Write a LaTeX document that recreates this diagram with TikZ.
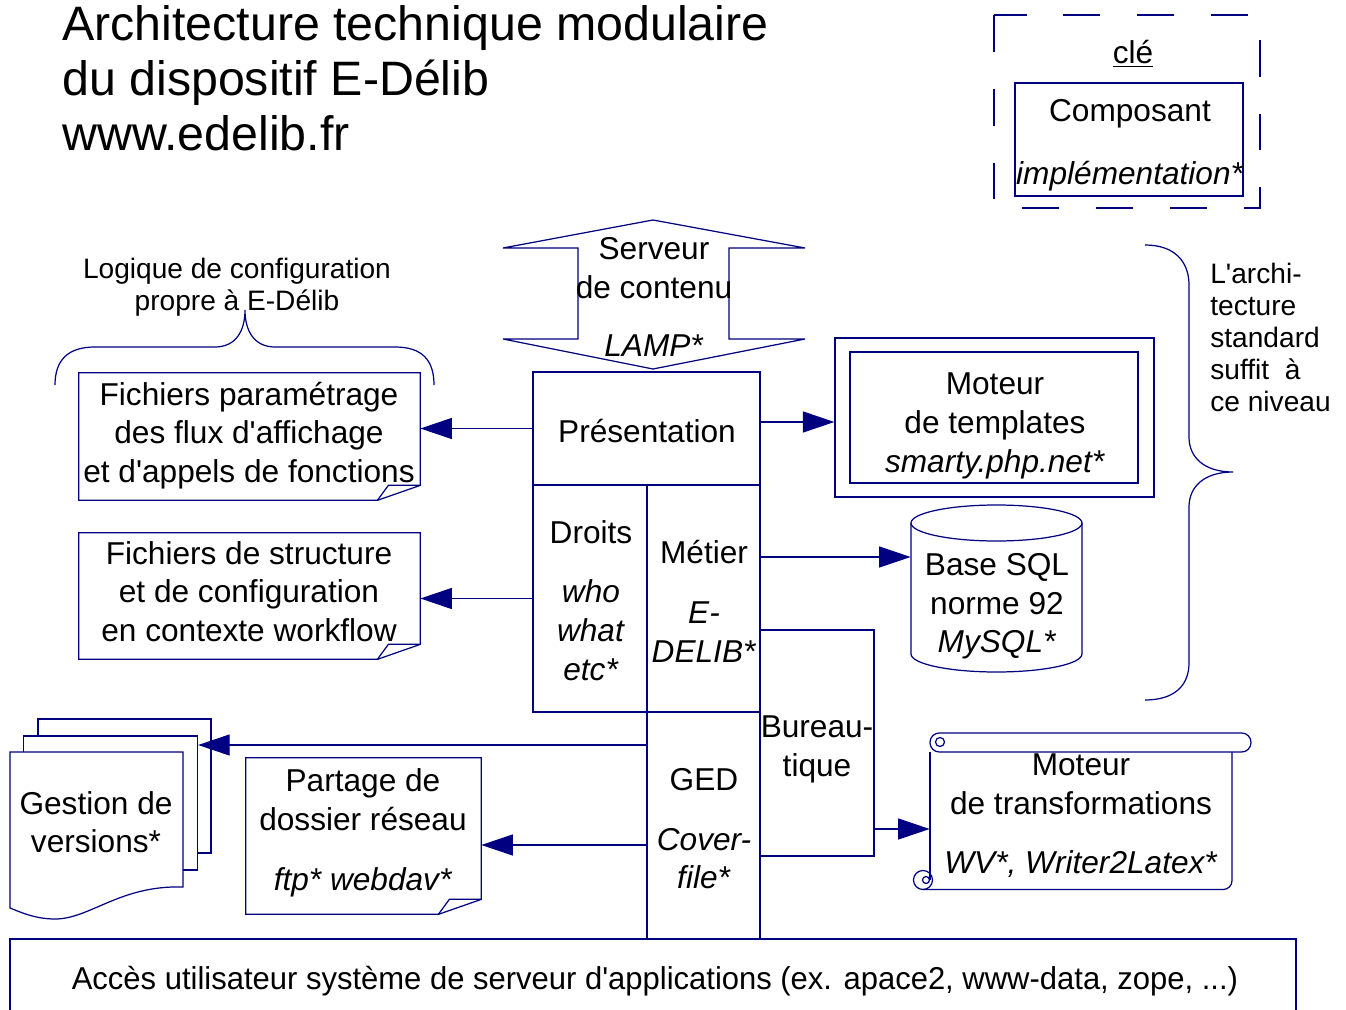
\documentclass[tikz,border=0pt]{standalone}
\usepackage{fontspec}
\usepackage{graphicx}
\setmainfont{Liberation Sans}
\usetikzlibrary{arrows.meta}

\definecolor{navy}{RGB}{0,0,128}
\tikzset{
  line/.style={draw=navy, line width=0.7pt},
  box/.style={line, fill=white, inner sep=0pt},
  sz/.style 2 args={minimum width=#1*0.02cm, minimum height=#2*0.02cm},
  txt/.style={font=\fontsize{18}{22}\selectfont, align=center, inner sep=0pt,
    execute at begin node=\strut, execute at end node=\strut},
  small/.style={font=\fontsize{16}{18.2}\selectfont, align=center, inner sep=0pt,
    execute at begin node=\strut, execute at end node=\strut},
  titre/.style={font=\fontsize{27.5}{31.3}\selectfont, align=left, inner sep=0pt},
  arr/.style={line, -{Triangle[length=18pt,width=12pt]}}
}
\newcommand{\ap}{\textquotesingle}
\newcommand{\foldnote}[1]{%
  \draw[line] (#1.north west) -- (#1.north east) -- ([yshift=0.3cm]#1.south east)
    -- ([xshift=-0.86cm]#1.south east) -- (#1.south west) -- cycle;
  \draw[line] ([xshift=-0.86cm]#1.south east) -- ([xshift=-0.64cm,yshift=0.3cm]#1.south east)
    -- ([yshift=0.3cm]#1.south east);}

\begin{document}
\begin{tikzpicture}[x=0.02cm, y=-0.02cm]
\useasboundingbox (0,0) rectangle (1346,1010);

% titre
\node[titre, anchor=north west] (titre) at (62,5) {Architecture technique modulaire\\du dispositif E-Délib\\www.edelib.fr};

% cle
\draw[line, dash pattern=on 21pt off 21pt] (994,15) rectangle (1260,208);
\node[txt] (cle) at (1133,55.5) {\underline{clé}};
\node[box, sz={228}{113}] (comp) at (1129,139.5) {};
\node[txt] (comptxt) at (1130,148) {Composant\\[14pt]\textit{implémentation*}};

% serveur de contenu
\draw[line] (653,220) -- (805,248) -- (729,248) -- (729,339) -- (805,339) -- (653,369)
  -- (503,339) -- (578,339) -- (578,248) -- (503,248) -- cycle;
\node[txt] (srv) at (654,303) {Serveur\ \\de contenu\\[11pt]\textit{LAMP*}};

% couches
\node[box, sz={114}{226}] (bur) at (817,743) {};
\node[box, sz={227}{113}] (pres) at (646.5,428.5) {};
\node[box, sz={114}{227}] (droits) at (590,598.5) {};
\node[box, sz={113}{227}] (metier) at (703.5,598.5) {};
\node[box, sz={113}{227}] (ged) at (703.5,825.5) {};
\node[txt] (burtxt) at (817,752) {Bureau-\\tique};
\node[txt] (prestxt) at (647,434.5) {Présentation};
\node[txt] (droitstxt) at (591,606) {Droits\\[12pt]\textit{who}\\\textit{what}\\\textit{etc*}};
\node[txt] (metiertxt) at (704,607) {Métier\\[12pt]\textit{E-}\\\textit{DELIB*}};
\node[txt] (gedtxt) at (704,834.5) {GED\\[12pt]\textit{Cover-}\\\textit{file*}};

% fichiers
\node[sz={341}{127}] (fparam) at (249.5,436.5) {};
\foldnote{fparam}
\node[txt] (fparamtxt) at (249,438) {Fichiers paramétrage\\des flux d\ap affichage\\et d\ap appels de fonctions};
\node[sz={341}{126}] (fstruct) at (249.5,596) {};
\foldnote{fstruct}
\node[txt] (fstructtxt) at (249,597) {Fichiers de structure\\et de configuration\\en contexte workflow};
\draw[line] (55,385) .. controls (55,360) and (68,347) .. (95,347) -- (215,347)
  .. controls (235,347) and (245,332) .. (245,310) .. controls (245,332) and (255,347) .. (275,347)
  -- (395,347) .. controls (422,347) and (434,360) .. (434,385);
\node[small] (logique) at (237,289.5) {Logique de configuration\\propre à E-Délib};
\draw[arr] (pres.west) -- (fparam.east |- pres.west);
\draw[arr] (droits.west) -- (fstruct.east |- droits.west);

% moteur de templates
\node[box, sz={319}{159}] (tplout) at (994.5,417.5) {};
\node[box, sz={288}{131}] (tpl) at (994,417.5) {};
\node[txt] (tpltxt) at (995,428.5) {Moteur\\de templates\\\textit{smarty.php.net*}};
\draw[arr] (pres.east |- 0,422) -- (tplout.west |- 0,422);

% base sql
\draw[line, fill=white] (911,523) -- (911,654) arc[start angle=180, end angle=360, x radius=1.71cm, y radius=0.36cm] -- (1082,523);
\draw[line, fill=white] (996.5,523) ellipse[x radius=1.71cm, y radius=0.36cm];
\node[sz={171}{167}] (sql) at (996.5,588.5) {};
\node[txt] (sqltxt) at (997,609) {Base SQL\\norme 92\\\textit{MySQL*}};
\draw[arr] (metier.east |- 0,557) -- (sql.west |- 0,557);

% gestion de versions
\node[box, sz={173}{134}] (vers3) at (124.5,786) {};
\node[box, sz={174}{134}] (vers2) at (110.5,803) {};
\draw[line, fill=white] (10,752) -- (183,752) -- (183,887) .. controls (120,885) and (90,919) .. (55,919)
  .. controls (35,919) and (20,912) .. (10,908) -- cycle;
\node[txt] (vers) at (96,828) {Gestion de\\versions*};
\draw[arr] (ged.west |- 0,745) -- (vers2.east |- 0,745);

% partage
\node[sz={235}{156}] (part) at (363.5,836) {};
\foldnote{part}
\node[txt] (parttxt) at (363,835.5) {Partage de\\dossier réseau\\[12pt]\textit{ftp* webdav*}};
\draw[arr] (ged.west |- 0,845) -- (part.east |- 0,845);

% moteur de transformations
\node[sz={302}{138}] (trans) at (1081,821) {};
\draw[line] (930,752) -- (930,880);
\draw[line, rounded corners=5pt] (923,889.5) -- (1232,889.5) -- (1232,752);
\draw[line, fill=white, rounded corners=5.3pt] (930,733) rectangle (1251,752);
\draw[line] (940,742) circle[radius=0.09cm];
\draw[line] (923,880) circle[radius=0.19cm];
\draw[line] (926,880) circle[radius=0.07cm];
\node[txt] (transtxt) at (1081,819.5) {Moteur\\de transformations\\[11.5pt]\textit{WV*, Writer2Latex*}};
\draw[arr] (bur.east |- 0,829) -- (trans.west |- 0,829);

% accolade droite
\draw[line] (1145,245) .. controls (1175,245) and (1189,262) .. (1189,285) -- (1189,437)
  .. controls (1189,458) and (1205,472) .. (1233,472) .. controls (1205,472) and (1189,486) .. (1189,507)
  -- (1189,663) .. controls (1189,685) and (1175,700) .. (1145,700);
\node[small, align=left, anchor=north west] (archi) at (1210,263) {L\ap archi-\\tecture\\standard\\suffit~ à\\ce niveau};

% acces utilisateur
\draw[line] (10,1010) -- (10,939) -- (1296,939) -- (1296,1010);
\node[txt] (acces) at (655,981.5) {\scalebox{0.98}[1]{Accès utilisateur système de serveur d\ap applications (ex. apace2, www-data, zope, ...)}};
\end{tikzpicture}
\end{document}
